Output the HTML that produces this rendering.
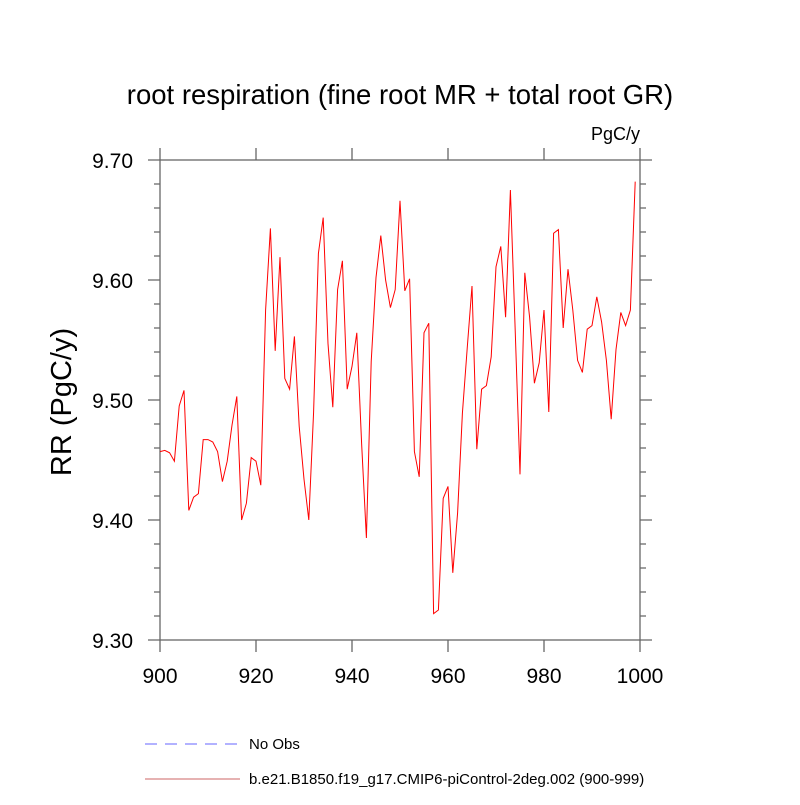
<!DOCTYPE html>
<html><head><meta charset="utf-8"><style>body{margin:0;background:#fff}svg{font-family:"Liberation Sans",sans-serif}</style></head>
<body>
<svg id="c" width="800" height="800"></svg>
<script>
const years=[];for(let y=900;y<=999;y++)years.push(y);
const values=[9.457,9.458,9.456,9.449,9.495,9.508,9.408,9.419,9.422,9.467,9.467,9.465,9.457,9.432,9.449,9.479,9.503,9.400,9.414,9.452,9.449,9.429,9.575,9.643,9.541,9.619,9.518,9.509,9.553,9.478,9.434,9.400,9.490,9.622,9.652,9.547,9.494,9.592,9.616,9.509,9.528,9.556,9.464,9.385,9.532,9.602,9.637,9.600,9.577,9.592,9.666,9.591,9.601,9.457,9.436,9.556,9.564,9.322,9.325,9.418,9.428,9.356,9.406,9.489,9.543,9.595,9.459,9.509,9.512,9.536,9.611,9.628,9.569,9.675,9.558,9.438,9.606,9.569,9.514,9.531,9.575,9.490,9.639,9.642,9.560,9.609,9.575,9.533,9.523,9.559,9.562,9.586,9.565,9.533,9.484,9.542,9.573,9.562,9.575,9.682];
const xTicks=[900,920,940,960,980,1000];
const yTicks=[9.30,9.40,9.50,9.60,9.70];
const NS="http://www.w3.org/2000/svg";const svg=document.getElementById('c');
const L=160,R=640,T=160,B=640;
const X=v=>L+(v-900)/100*(R-L);const Y=v=>B-(v-9.3)/0.4*(B-T);
function el(t,a,p){const e=document.createElementNS(NS,t);for(const k in a)e.setAttribute(k,a[k]);(p||svg).appendChild(e);return e;}
let e;
e=el('rect',{x:L,y:T,width:R-L,height:B-T,fill:'none',stroke:'#666','stroke-width':1.3});


let d='';
xTicks.forEach(v=>{const x=X(v);d+=`M${x},${B}v12M${x},${T}v-12`;});
for(let i=0;i<=20;i++){const y=Y(9.3+i*0.02),m=i%5===0?12:6;d+=`M${L},${y}h${-m}M${R},${y}h${m}`;}
e=el('path',{d:d,stroke:'#666','stroke-width':1.3,fill:'none'});


xTicks.forEach(v=>{const t=el('text',{x:X(v),y:B+43,'text-anchor':'middle','font-size':21});t.textContent=v;

});
yTicks.forEach(v=>{const t=el('text',{x:L-27,y:Y(v)+8,'text-anchor':'end','font-size':21});t.textContent=v.toFixed(2);

});
e=el('polyline',{points:years.map((y,i)=>X(y)+','+Y(values[i])).join(' '),fill:'none',stroke:'#f00','stroke-width':1});


e=el('text',{x:400,y:104,'text-anchor':'middle','font-size':27.5});e.textContent='root respiration (fine root MR + total root GR)';


e=el('text',{x:640,y:140,'text-anchor':'end','font-size':18});e.textContent='PgC/y';


e=el('text',{x:0,y:0,'text-anchor':'middle','font-size':29,transform:'translate(71,402) rotate(-90)'});e.textContent='RR  (PgC/y)';e.setAttribute('xml:space','preserve');


e=el('line',{x1:145,y1:744,x2:240,y2:744,stroke:'#66f','stroke-width':1,'stroke-dasharray':'12,8'});


e=el('text',{x:249,y:749,'font-size':15});e.textContent='No Obs';


e=el('line',{x1:145,y1:779,x2:240,y2:779,stroke:'#c66','stroke-width':1});


e=el('text',{x:249,y:784,'font-size':15});e.textContent='b.e21.B1850.f19_g17.CMIP6-piControl-2deg.002 (900-999)';


</script>
</body></html>
